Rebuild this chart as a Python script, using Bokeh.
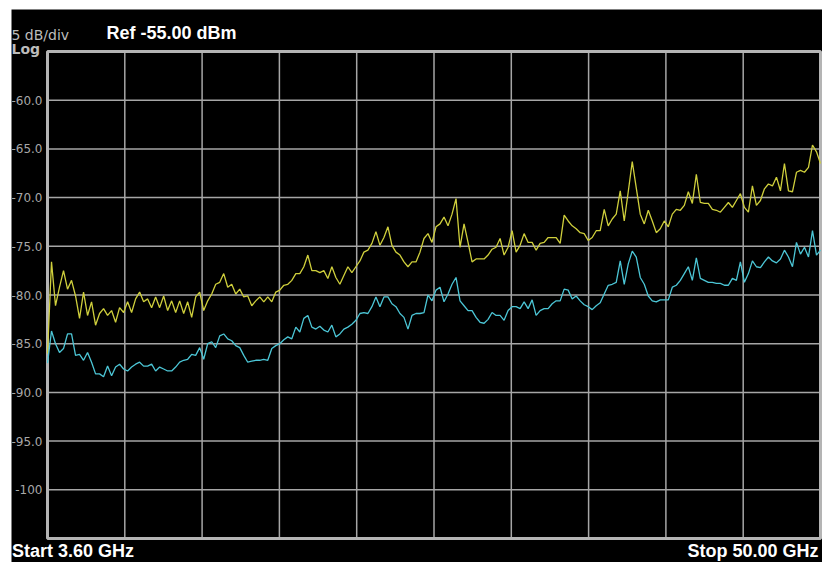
import numpy as np
from bokeh.plotting import figure
from bokeh.models import Range1d, Label
from bokeh.core.properties import value
from bokeh.embed import file_html
from bokeh.resources import INLINE

# Sweep settings
start_ghz = 3.6
stop_ghz = 50.0
ref_dbm = -55.0
db_per_div = 5.0
bottom_dbm = ref_dbm - 10 * db_per_div

y_ticks = [-60, -65, -70, -75, -80, -85, -90, -95, -100]
y_tick_labels = ["-60.0", "-65.0", "-70.0", "-75.0", "-80.0", "-85.0", "-90.0", "-95.0", "-100"]
x_grid_ghz = [8.24, 12.88, 17.52, 22.16, 26.80, 31.44, 36.08, 40.72, 45.36]

# Trace 1 (yellow), dBm
trace_yellow = [
    -86.0, -76.6, -81.1, -79.2, -77.5, -79.4, -78.5, -80.1, -82.4, -79.7,
    -82.1, -80.7, -83.1, -81.9, -81.4, -82.1, -81.6, -82.8, -81.3, -81.8,
    -80.7, -81.8, -80.4, -79.7, -80.7, -80.4, -81.3, -80.2, -81.3, -80.1,
    -81.6, -80.6, -81.8, -80.6, -81.9, -80.7, -82.3, -80.2, -79.7, -81.6,
    -80.6, -79.9, -78.9, -78.7, -77.8, -79.2, -78.9, -79.9, -79.4, -80.2,
    -80.1, -81.1, -80.6, -80.2, -80.7, -80.2, -80.7, -79.7, -79.5, -79.0,
    -78.9, -78.5, -77.8, -77.8, -77.1, -75.9, -77.5, -77.5, -77.7, -77.5,
    -78.3, -77.1, -78.2, -78.9, -78.0, -77.1, -77.7, -77.1, -76.5, -75.6,
    -75.4, -74.7, -73.5, -74.9, -74.1, -73.0, -74.9, -75.6, -75.9, -76.6,
    -77.1, -76.6, -76.6, -75.6, -74.2, -73.7, -74.6, -73.0, -72.7, -72.0,
    -72.9, -71.7, -70.1, -75.1, -72.7, -74.6, -76.6, -76.3, -76.3, -76.3,
    -75.9, -75.3, -75.1, -74.2, -75.9, -75.1, -73.4, -75.6, -74.9, -73.7,
    -74.6, -74.6, -75.4, -74.7, -74.6, -74.1, -74.1, -74.1, -74.7, -71.8,
    -72.4, -72.9, -73.2, -73.6, -73.7, -74.4, -74.1, -73.4, -73.4, -71.2,
    -72.9, -72.2, -71.7, -69.3, -72.4, -69.4, -66.3, -69.0, -71.7, -72.7,
    -71.3, -72.4, -73.6, -73.2, -72.4, -73.0, -71.7, -71.2, -71.3, -70.8,
    -69.4, -70.6, -67.6, -70.5, -70.6, -70.6, -71.2, -71.3, -71.5, -71.0,
    -70.5, -71.0, -70.3, -69.6, -71.0, -71.5, -68.8, -70.8, -70.3, -69.1,
    -68.6, -68.8, -67.9, -69.3, -66.5, -69.3, -69.4, -67.4, -67.2, -67.4,
    -66.9, -64.6, -65.3, -66.5,
]

# Trace 2 (cyan), dBm
trace_cyan = [
    -87.0, -83.7, -85.0, -85.9, -85.5, -84.0, -84.0, -86.2, -86.1, -86.7,
    -85.9, -86.9, -88.1, -88.1, -88.4, -87.3, -88.3, -87.4, -87.1, -87.6,
    -87.8, -87.4, -87.1, -86.9, -87.3, -87.3, -87.1, -87.8, -87.4, -87.6,
    -87.8, -87.8, -87.4, -86.9, -86.7, -86.6, -86.1, -86.2, -85.4, -86.6,
    -85.0, -84.8, -85.4, -84.2, -84.0, -84.5, -84.7, -85.2, -85.4, -86.2,
    -86.9, -86.8, -86.7, -86.7, -86.6, -86.7, -85.5, -85.2, -85.0, -84.6,
    -84.3, -84.5, -83.3, -83.8, -82.4, -82.1, -83.3, -83.5, -83.2, -83.6,
    -83.8, -83.1, -84.3, -84.0, -83.5, -83.3, -83.0, -82.6, -81.9, -81.8,
    -81.9, -81.2, -80.2, -81.2, -80.2, -80.2, -80.9, -81.2, -81.9, -82.3,
    -83.5, -82.1, -81.9, -81.9, -81.8, -80.0, -80.6, -79.5, -79.2, -80.7,
    -79.9, -78.9, -78.2, -80.6, -81.1, -81.6, -81.6, -82.3, -82.8, -82.9,
    -82.5, -81.8, -82.1, -82.1, -82.6, -81.6, -81.2, -81.2, -81.4, -80.7,
    -81.4, -80.5, -82.1, -81.6, -81.4, -81.4, -80.9, -80.6, -80.6, -79.4,
    -79.5, -80.4, -80.1, -80.6, -81.0, -81.2, -81.5, -81.1, -80.8, -79.9,
    -79.0, -78.9, -78.7, -76.5, -78.9, -76.8, -75.5, -76.1, -78.2, -78.9,
    -80.1, -80.6, -80.7, -80.5, -80.5, -80.5, -79.2, -79.0, -78.5, -77.8,
    -77.1, -78.5, -76.2, -78.3, -78.5, -78.7, -78.7, -78.8, -78.8, -79.0,
    -79.0, -78.3, -78.5, -76.6, -78.7, -77.8, -76.5, -77.1, -77.2, -76.6,
    -76.1, -76.5, -76.7, -76.3, -75.4, -76.1, -77.1, -74.6, -75.8, -75.1,
    -76.1, -73.4, -75.9, -75.4,
]

# sweep points (uniform frequency grid of the analyzer)
freqs = np.linspace(start_ghz, stop_ghz, len(trace_yellow))

# screen layout (pixels): black panel 811x553, graticule inset inside it
W, H = 811, 553
GL, GR, GT, GB = 36, 2, 42, 24          # graticule insets
gw, gh = W - GL - GR, H - GT - GB
ghz_per_px = (stop_ghz - start_ghz) / gw
db_per_px = (ref_dbm - bottom_dbm) / gh

p = figure(
    width=W, height=H,
    output_backend="svg", toolbar_location=None,
    x_range=Range1d(start_ghz - GL * ghz_per_px, stop_ghz + GR * ghz_per_px),
    y_range=Range1d(bottom_dbm - GB * db_per_px, ref_dbm + GT * db_per_px),
    x_axis_location=None, y_axis_location=None,
    min_border=0,
    background_fill_color="black", border_fill_color="black",
    margin=(9, 1, 1, 11),
)
p.outline_line_color = None
p.grid.visible = False

grid_col = "#a6a6a6"
# vertical graticule lines
p.segment(x0=x_grid_ghz, y0=[bottom_dbm] * len(x_grid_ghz),
          x1=x_grid_ghz, y1=[ref_dbm] * len(x_grid_ghz),
          line_color=grid_col, line_width=1.5)
# horizontal graticule lines
p.segment(x0=[start_ghz] * len(y_ticks), y0=y_ticks,
          x1=[stop_ghz] * len(y_ticks), y1=y_ticks,
          line_color=grid_col, line_width=1.5)
# graticule border
p.quad(left=[start_ghz], right=[stop_ghz], bottom=[bottom_dbm], top=[ref_dbm],
       fill_color=None, line_color="#b4b4b4", line_width=3)

# traces
p.line(freqs, trace_yellow, line_color="#cfcf3c", line_width=1.3)
p.line(freqs, trace_cyan, line_color="#4cc6d6", line_width=1.3)

# amplitude scale labels
p.text(x=[start_ghz] * len(y_ticks), y=y_ticks, text=y_tick_labels,
       x_offset=-5, text_align="right", text_baseline="middle",
       text_font=value("DejaVu Sans"), text_font_size="12px", text_color="#a8a8a8")

gray = "#bcbcbc"
p.add_layout(Label(x=0, y=H - 33, x_units="screen", y_units="screen", text="5 dB/div",
                   text_color=gray, text_font="DejaVu Sans", text_font_size="14px"))
p.add_layout(Label(x=0, y=H - 47, x_units="screen", y_units="screen", text="Log",
                   text_color=gray, text_font="DejaVu Sans", text_font_style="bold",
                   text_font_size="14px"))
p.add_layout(Label(x=95, y=H - 33, x_units="screen", y_units="screen", text="Ref -55.00 dBm",
                   text_color="white", text_font="Liberation Sans", text_font_style="bold",
                   text_font_size="18px"))
p.add_layout(Label(x=0.5, y=1.5, x_units="screen", y_units="screen", text="Start 3.60 GHz",
                   text_color="white", text_font="Liberation Sans", text_font_style="bold",
                   text_font_size="18px"))
p.add_layout(Label(x=W - 4, y=1.5, x_units="screen", y_units="screen", text="Stop 50.00 GHz",
                   text_align="right",
                   text_color="white", text_font="Liberation Sans", text_font_style="bold",
                   text_font_size="18px"))

open("out.html", "w").write(file_html(p, INLINE))
